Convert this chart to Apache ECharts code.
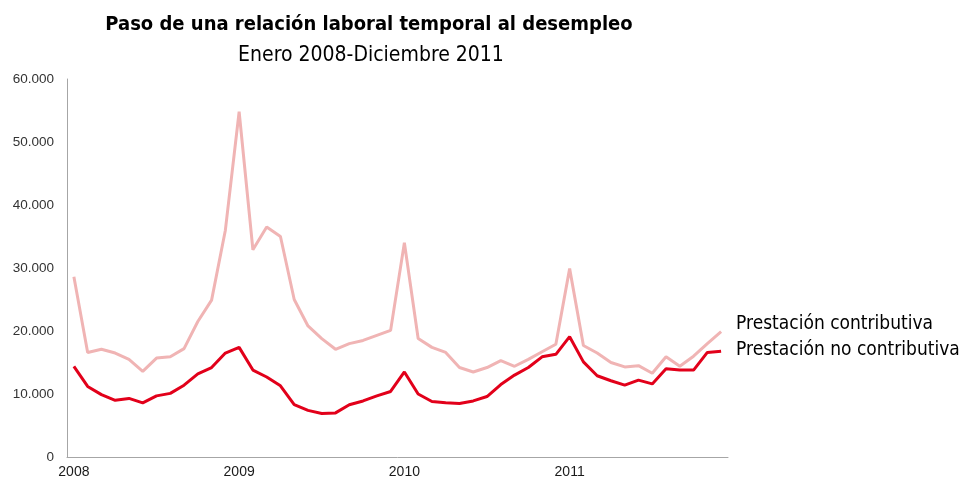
<!DOCTYPE html>
<html>
<head>
<meta charset="utf-8">
<script src="https://cdn.jsdelivr.net/npm/echarts@6/dist/echarts.min.js"></script>
<style>
  html, body { margin: 0; padding: 0; background: #fff; }
</style>
</head>
<body>
<div id="main" style="width: 968px;height:479px;"></div>
<script>
// meses enero 2008 - diciembre 2011
const years = [2008, 2009, 2010, 2011]
const months = []
years.forEach(y => {
  for (let m = 1; m <= 12; m++) months.push(y + '-' + (m < 10 ? '0' + m : m))
})

const contributiva = [
  28600, 16600, 17100, 16500, 15500, 13600, 15700, 15900, 17200, 21500, 24900, 36000,
  54800, 32900, 36500, 35000, 25000, 20800, 18800, 17100, 18000, 18500, 19300, 20100,
  34000, 18800, 17400, 16600, 14200, 13500, 14200, 15300, 14400, 15500, 16700, 17900,
  29900, 17700, 16500, 15000, 14300, 14500, 13300, 15900, 14400, 16000, 18000, 19900
]
const noContributiva = [
  14400, 11200, 9900, 9000, 9300, 8600, 9700, 10100, 11400, 13200, 14200, 16500,
  17400, 13800, 12700, 11300, 8300, 7400, 6900, 7000, 8300, 8900, 9700, 10400,
  13500, 10000, 8800, 8600, 8500, 8900, 9600, 11500, 13000, 14200, 15900, 16300,
  19100, 15100, 12900, 12100, 11400, 12200, 11600, 14000, 13800, 13800, 16600, 16800
]
const yTicks = [0, 10000, 20000, 30000, 40000, 50000, 60000]

const narrow = "'DejaVu Sans Condensed', 'Liberation Sans Narrow', 'Arial Narrow', sans-serif"
const fmt = v => String(v).replace(/\B(?=(\d{3})+(?!\d))/g, '.')

const myChart = echarts.init(document.getElementById('main'))
const option = {
  animation: false,
  title: [
    {
      text: 'Paso de una relación laboral temporal al desempleo',
      left: 364,
      top: 10,
      textAlign: 'center',
      textStyle: { fontFamily: narrow, fontSize: 20, fontWeight: 'bold', color: '#000' }
    },
    {
      text: 'Enero 2008-Diciembre 2011',
      left: 366,
      top: 40,
      textAlign: 'center',
      textStyle: { fontFamily: narrow, fontSize: 21, fontWeight: 'normal', color: '#000' }
    }
  ],
  grid: {
    left: 67,
    right: 240,
    top: 79,
    bottom: 22,
    containLabel: false
  },
  xAxis: {
    type: 'category',
    data: months,
    boundaryGap: true,
    axisLine: { lineStyle: { color: '#a6a6a6', width: 1 } },
    axisTick: { show: false },
    axisLabel: {
      interval: (i) => i % 12 === 0,
      formatter: v => v.slice(0, 4),
      color: '#1a1a1a',
      fontSize: 14,
      fontFamily: 'Liberation Sans, Arial, sans-serif',
      margin: 8
    },
    splitLine: { show: false }
  },
  yAxis: {
    type: 'value',
    min: yTicks[0],
    max: yTicks[yTicks.length - 1],
    interval: 10000,
    axisLine: { show: true, lineStyle: { color: '#a6a6a6', width: 1 } },
    axisTick: { show: false },
    splitLine: { show: false },
    axisLabel: {
      formatter: fmt,
      color: '#333',
      fontSize: 13.5,
      fontFamily: 'Liberation Sans, Arial, sans-serif',
      margin: 13
    }
  },
  series: [
    {
      name: 'Prestación contributiva',
      type: 'line',
      data: contributiva,
      symbol: 'none',
      lineStyle: { color: '#f0b4b4', width: 3 },
      itemStyle: { color: '#f0b4b4' },
      endLabel: {
        show: true,
        formatter: '{a}',
        distance: 15,
        offset: [0, -8],
        color: '#000',
        fontSize: 19,
        fontFamily: narrow
      }
    },
    {
      name: 'Prestación no contributiva',
      type: 'line',
      data: noContributiva,
      symbol: 'none',
      lineStyle: { color: '#e2001a', width: 3 },
      itemStyle: { color: '#e2001a' },
      endLabel: {
        show: true,
        formatter: '{a}',
        distance: 15,
        offset: [0, -1],
        color: '#000',
        fontSize: 19,
        fontFamily: narrow
      }
    }
  ]
}
myChart.setOption(option)
</script>
</body>
</html>
